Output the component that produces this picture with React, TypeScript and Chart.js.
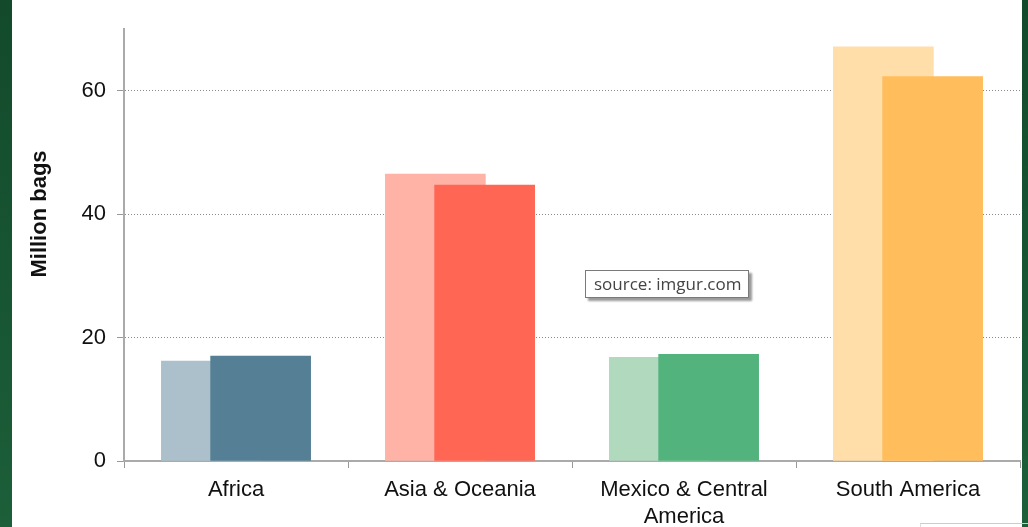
import React, { useEffect, useRef } from "react";
import { Chart, registerables } from "chart.js";

Chart.register(...registerables);

const categories: (string | string[])[] = [
  "Africa",
  "Asia & Oceania",
  ["Mexico & Central", "America"],
  "South America",
];
const previousValues = [16.2, 46.5, 16.8, 67.1];
const currentValues = [17.0, 44.7, 17.3, 62.3];
const previousColors = ["#acc0cb", "#ffb3a7", "#b0d9be", "#ffdeaa"];
const currentColors = ["#557f94", "#ff6653", "#53b37d", "#ffbd5b"];
const yTicks = [0, 20, 40, 60];
const yTitle = "Million bags";
const sourceText = "source: imgur.com";

const SHIFT = 0.11;
const FONT = "'Liberation Sans', Arial, sans-serif";

const yTitlePlugin = {
  id: "yTitlePlugin",
  afterDraw(chart: any) {
    const ctx = chart.ctx;
    ctx.save();
    ctx.translate(28, 214);
    ctx.rotate(-Math.PI / 2);
    ctx.font = `bold 22px ${FONT}`;
    ctx.fillStyle = "#111";
    ctx.textAlign = "center";
    ctx.textBaseline = "middle";
    ctx.fillText(yTitle, 0, 0);
    ctx.restore();
  },
};

export default function App() {
  const ref = useRef<HTMLCanvasElement | null>(null);
  useEffect(() => {
    if (!ref.current) return;
    const chart = new Chart(ref.current, {
      type: "bar",
      data: {
        labels: categories as any,
        datasets: [
          {
            label: "Previous",
            data: previousValues.map((v, i) => ({ x: i - SHIFT, y: v })),
            backgroundColor: previousColors,
            xAxisID: "xb",
            grouped: false,
            barThickness: 100,
            order: 2,
          } as any,
          {
            label: "Current",
            data: currentValues.map((v, i) => ({ x: i + SHIFT, y: v })),
            backgroundColor: currentColors,
            xAxisID: "xb",
            grouped: false,
            barThickness: 100,
            order: 1,
          } as any,
        ],
      },
      options: {
        animation: false,
        responsive: false,
        maintainAspectRatio: false,
        layout: { padding: { left: 0, right: 2, top: 29, bottom: 0 } },
        plugins: {
          legend: { display: false },
          tooltip: { enabled: false },
        },
        scales: {
          x: {
            type: "category",
            axis: "x",
            position: "bottom",
            offset: true,
            grid: {
              offset: true,
              drawOnChartArea: false,
              drawTicks: true,
              tickLength: 7,
              color: "#999",
            },
            border: { color: "#aaa", width: 2 },
            ticks: {
              color: "#111",
              font: { family: FONT, size: 22 },
              padding: 9,
              maxRotation: 0,
              autoSkip: false,
            },
            afterFit(scale: any) {
              scale.height = 66;
            },
          },
          xb: {
            type: "linear",
            axis: "x",
            position: "bottom",
            display: false,
            offset: false,
            min: -0.5,
            max: 3.5,
          },
          y: {
            type: "linear",
            min: 0,
            max: 70,
            afterBuildTicks(scale: any) {
              scale.ticks = yTicks.map((v) => ({ value: v }));
            },
            grid: {
              color: "#8a8a8a",
              lineWidth: 1,
              drawTicks: true,
              tickLength: 7,
              tickColor: "#999",
              tickBorderDash: [],
            } as any,
            border: { color: "#aaa", width: 2, dash: [1, 2] },
            ticks: {
              color: "#111",
              font: { family: FONT, size: 22 },
              padding: 11,
            },
            afterFit(scale: any) {
              scale.width = 112;
            },
          },
        },
      },
      plugins: [yTitlePlugin],
    });
    return () => chart.destroy();
  }, []);

  return (
    <div
      style={{
        position: "fixed",
        left: 0,
        top: 0,
        width: 1028,
        height: 527,
        background: "linear-gradient(#124a2b, #1c5f39)",
        overflow: "hidden",
      }}
    >
      <div
        style={{
          position: "absolute",
          left: 12,
          top: 0,
          width: 1010,
          height: 527,
          background: "#ffffff",
        }}
      >
        <canvas ref={ref} width={1010} height={527} style={{ display: "block" }} />
        <div
          style={{
            position: "absolute",
            left: 573,
            top: 270,
            height: 26,
            padding: "0 7px 0 8px",
            border: "1px solid #7a7a7a",
            background: "#fff",
            boxShadow: "3px 3px 2px #9a9a9a",
            fontFamily: "'Open Sans', sans-serif",
            fontSize: 17,
            lineHeight: "26px",
            color: "#444",
            whiteSpace: "nowrap",
          }}
        >
          {sourceText}
        </div>
        <div
          style={{
            position: "absolute",
            left: 908,
            top: 523,
            width: 110,
            height: 10,
            borderTop: "1px solid #ccc",
            borderLeft: "1px solid #ddd",
          }}
        />
      </div>
    </div>
  );
}
